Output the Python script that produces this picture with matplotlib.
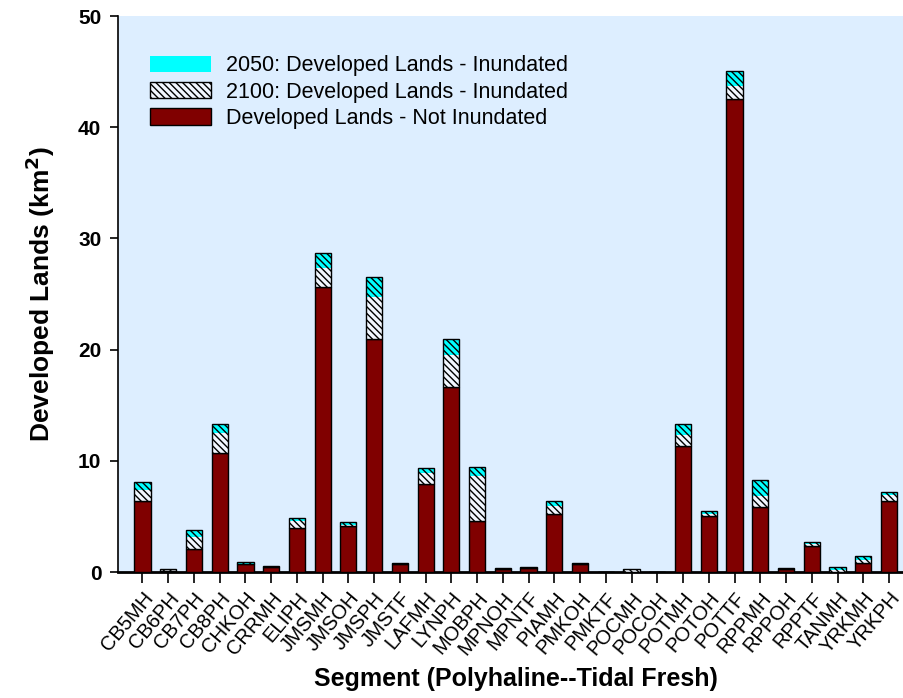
import numpy as np
import matplotlib
matplotlib.use("Agg")
import matplotlib.pyplot as plt
from matplotlib.patches import Patch

plt.rcParams['font.family'] = ['Liberation Sans', 'DejaVu Sans']
plt.rcParams['hatch.linewidth'] = 1.0

segments = ["CB5MH", "CB6PH", "CB7PH", "CB8PH", "CHKOH", "CRRMH", "ELIPH", "JMSMH",
            "JMSOH", "JMSPH", "JMSTF", "LAFMH", "LYNPH", "MOBPH", "MPNOH", "MPNTF",
            "PIAMH", "PMKOH", "PMKTF", "POCMH", "POCOH", "POTMH", "POTOH", "POTTF",
            "RPPMH", "RPPOH", "RPPTF", "TANMH", "YRKMH", "YRKPH"]

# developed lands not inundated (km2)
not_inundated = [6.4, 0.1, 2.05, 10.7, 0.75, 0.45, 3.95, 25.6,
                 4.15, 21.0, 0.7, 7.9, 16.6, 4.6, 0.3, 0.4,
                 5.2, 0.75, 0.0, 0.0, 0.0, 11.35, 5.0, 42.55,
                 5.85, 0.3, 2.35, 0.0, 0.85, 6.35]
# inundated by 2100 only (beyond 2050)
inund_2100 = [1.0, 0.15, 1.1, 1.8, 0.0, 0.0, 0.65, 1.7,
              0.05, 3.7, 0.0, 1.0, 2.9, 4.0, 0.0, 0.0,
              0.75, 0.0, 0.0, 0.15, 0.0, 0.95, 0.2, 1.2,
              1.0, 0.0, 0.15, 0.2, 0.2, 0.55]
# inundated by 2050
inund_2050 = [0.7, 0.05, 0.6, 0.8, 0.15, 0.05, 0.25, 1.4,
              0.3, 1.8, 0.1, 0.45, 1.45, 0.85, 0.05, 0.05,
              0.4, 0.05, 0.0, 0.15, 0.0, 1.0, 0.3, 1.3,
              1.4, 0.05, 0.2, 0.25, 0.35, 0.3]

red = np.array(not_inundated)
w21 = np.array(inund_2100)
c50 = np.array(inund_2050)
x = np.arange(len(segments))
width = 0.63
hatch = '\\' * 5
white = '#F2F7FF'

fig = plt.figure(figsize=(9.04, 6.98), dpi=100)
ax = fig.add_axes([0.1305, 0.1805, 0.88, 0.7965])
ax.set_facecolor('#DDEEFF')

ax.bar(x, red, width, color='#800000', edgecolor='black', linewidth=1.0, zorder=3)
ax.bar(x, w21, width, bottom=red, color=white, linewidth=0, zorder=3)
ax.bar(x, c50, width, bottom=red + w21, color='#00FFFF', linewidth=0, zorder=3)
# hatch + outline over the inundated part
ax.bar(x, w21 + c50, width, bottom=red, color='none', edgecolor='black',
       linewidth=1.0, hatch=hatch, zorder=4)

ax.set_xlim(-0.95, 29.95)
ax.set_ylim(0, 50)
ax.set_yticks(np.arange(0, 51, 10))
ax.set_xticks(x)
ax.set_xticklabels(segments, rotation=50, ha='right', rotation_mode='anchor',
                   fontsize=14.5)
for lab in ax.get_yticklabels():
    lab.set_fontweight('bold')
    lab.set_fontsize(15)
ax.tick_params(axis='y', length=6, width=1.2, pad=6)
ax.tick_params(axis='x', length=8, width=1.2, pad=4)

for s in ['top', 'right']:
    ax.spines[s].set_visible(False)
ax.spines['left'].set_linewidth(1.2)
ax.spines['bottom'].set_linewidth(2.0)

ax.set_ylabel('Developed Lands (km$^\\mathbf{2}$)', fontsize=19, fontweight='bold',
              labelpad=15)
ax.set_xlabel('Segment (Polyhaline--Tidal Fresh)', fontsize=18, fontweight='bold',
              labelpad=6)

handles = [Patch(facecolor='#00FFFF', edgecolor='none'),
           Patch(facecolor=white, edgecolor='black', hatch=hatch, linewidth=1.0),
           Patch(facecolor='#800000', edgecolor='black', linewidth=1.0)]
labels = ['2050: Developed Lands - Inundated',
          '2100: Developed Lands - Inundated',
          'Developed Lands - Not Inundated']
ax.legend(handles, labels, loc='upper left', bbox_to_anchor=(0.03, 0.945),
          frameon=False, fontsize=15.5, handlelength=2.8, handleheight=0.8,
          labelspacing=0.25, handletextpad=0.7, borderaxespad=0)

fig.savefig('out.png', dpi=100)
